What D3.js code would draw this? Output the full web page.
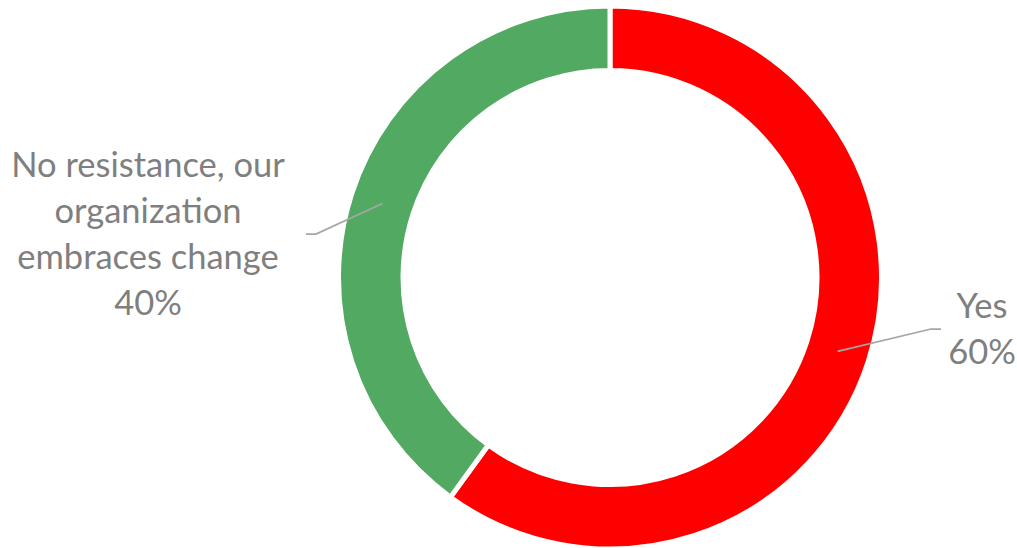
<!DOCTYPE html>
<html>
<head>
<meta charset="utf-8">
<script src="https://cdn.jsdelivr.net/npm/d3@7"></script>
<style>
  html, body { margin: 0; padding: 0; background: #ffffff; }
  svg { display: block; }
</style>
</head>
<body>
<svg id="chart" width="1017" height="548"></svg>
<script>
const categories = ["Yes", "No resistance, our organization embraces change"];
const values = [60, 40];
const labelLines = [["Yes", "60%"], ["No resistance, our", "organization", "embraces change", "40%"]];
const colors = ["#ff0000", "#51a962"];

const width = 1017, height = 548;
const cx = 610, cy = 277.5;
const outerR = 271.5, innerR = 207;

const svg = d3.select("#chart");
const g = svg.append("g").attr("transform", `translate(${cx},${cy})`);

const pie = d3.pie().sort(null).value(d => d.value);
const arcs = pie(categories.map((c, i) => ({ name: c, value: values[i] })));
const arc = d3.arc().innerRadius(innerR).outerRadius(outerR);

g.selectAll("path.slice")
  .data(arcs)
  .join("path")
  .attr("class", "slice")
  .attr("d", arc)
  .attr("fill", (d, i) => colors[i])
  .attr("stroke", "#ffffff")
  .attr("stroke-width", 5)
  .attr("stroke-linejoin", "miter");

// label layout (offsets relative to center)
const labelPos = [
  { lineY: 51.5, textX: 372, firstBaseline: 40.5, leaderEnd: 331 },
  { lineY: -43.5, textX: -462, firstBaseline: -100.5, leaderEnd: -304 }
];
const lineH = 46;
const fontSize = 34.5;

arcs.forEach((d, i) => {
  const c = arc.centroid(d);
  const lp = labelPos[i];
  const dir = i === 0 ? 1 : -1;
  const knee = [lp.leaderEnd - dir * 10, lp.lineY];
  g.append("polyline")
    .attr("points", [c, knee, [lp.leaderEnd, lp.lineY]].map(p => p.join(",")).join(" "))
    .attr("fill", "none")
    .attr("stroke", "#a6a6a6")
    .attr("stroke-width", 1.75);

  const t = g.append("text")
    .attr("text-anchor", "middle")
    .attr("font-family", "Lato, 'Open Sans', sans-serif")
    .attr("font-size", fontSize)
    .attr("fill", "#7f7f7f");
  labelLines[i].forEach((ln, j) => {
    t.append("tspan")
      .attr("x", lp.textX)
      .attr("y", lp.firstBaseline + j * lineH)
      .text(ln);
  });
});
</script>
</body>
</html>
